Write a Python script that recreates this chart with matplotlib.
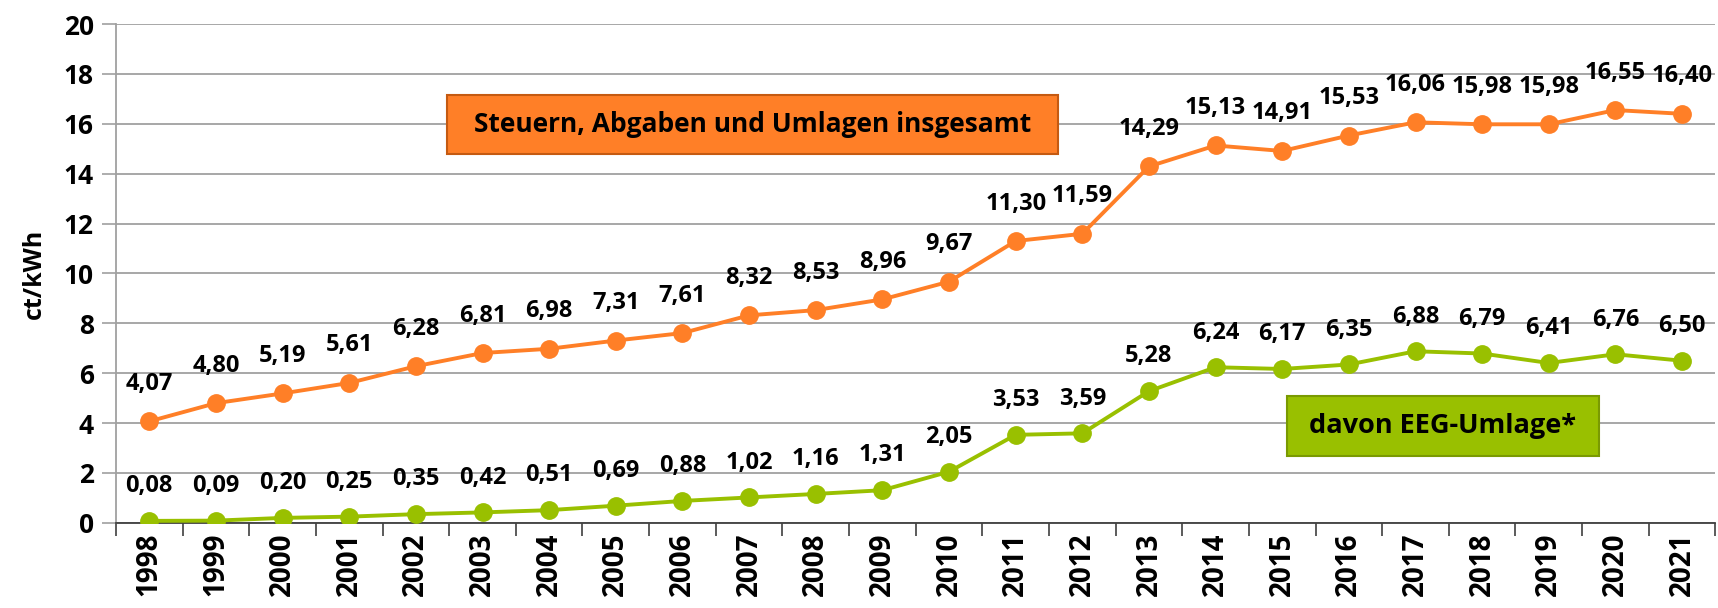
import matplotlib.pyplot as plt
from matplotlib.patches import Rectangle

plt.rcParams['font.family'] = ['Open Sans', 'DejaVu Sans']
plt.rcParams['font.weight'] = 'bold'

years = [str(y) for y in range(1998, 2022)]
gesamt = [4.07, 4.80, 5.19, 5.61, 6.28, 6.81, 6.98, 7.31, 7.61, 8.32, 8.53, 8.96,
          9.67, 11.30, 11.59, 14.29, 15.13, 14.91, 15.53, 16.06, 15.98, 15.98, 16.55, 16.40]
eeg = [0.08, 0.09, 0.20, 0.25, 0.35, 0.42, 0.51, 0.69, 0.88, 1.02, 1.16, 1.31,
       2.05, 3.53, 3.59, 5.28, 6.24, 6.17, 6.35, 6.88, 6.79, 6.41, 6.76, 6.50]

orange = '#FF7F27'
green = '#99C000'

fig = plt.figure(figsize=(17.18, 6.08), dpi=100)
ax = fig.add_axes([0.0675, 0.14, 0.931, 0.8205])

x = list(range(len(years)))
ax.plot(x, gesamt, color=orange, lw=2.8, marker='o', ms=12.5, zorder=3)
ax.plot(x, eeg, color=green, lw=2.8, marker='o', ms=12.5, zorder=3)

def fmt(v):
    return f'{v:.2f}'.replace('.', ',')

for xi, v in zip(x, gesamt):
    ax.annotate(fmt(v), (xi, v), xytext=(0, 27), textcoords='offset points',
                ha='center', va='center', fontsize=17, fontweight='bold')
for xi, v in zip(x, eeg):
    ax.annotate(fmt(v), (xi, v), xytext=(0, 25), textcoords='offset points',
                ha='center', va='center', fontsize=17, fontweight='bold')

ax.set_xlim(-0.5, len(years) - 0.5)
ax.set_ylim(0, 20)
ax.set_yticks(range(0, 21, 2))
ax.set_xticks(x)
ax.set_xticklabels(years, rotation=90, fontsize=20, fontweight='bold')
ax.set_xticks([i + 0.5 for i in range(-1, len(years))], minor=True)
ax.tick_params(axis='x', which='major', length=0, pad=7)
ax.tick_params(axis='x', which='minor', length=9, color='#404040', width=1.2)
ax.tick_params(axis='y', length=10, color='#a0a0a0', width=1.2, labelsize=19, pad=6)
for lab in ax.get_yticklabels():
    lab.set_fontweight('bold')

ax.grid(axis='y', color='#a0a0a0', lw=1.3)
ax.set_axisbelow(True)
for s in ['top', 'right']:
    ax.spines[s].set_visible(False)
ax.spines['left'].set_color('#a0a0a0')
ax.spines['left'].set_linewidth(1.3)
ax.spines['bottom'].set_color('#404040')
ax.spines['bottom'].set_linewidth(1.3)

ax.set_ylabel('ct/kWh', fontsize=18, fontweight='bold', labelpad=12)

# label boxes
ax.add_patch(Rectangle((0.207, 0.739), 0.382, 0.119, transform=ax.transAxes,
                       facecolor=orange, edgecolor='#C55A11', lw=1.5, zorder=4))
ax.text(0.398, 0.7985, 'Steuern, Abgaben und Umlagen insgesamt', transform=ax.transAxes,
        ha='center', va='center', fontsize=19, fontweight='bold', zorder=5)
ax.add_patch(Rectangle((0.732, 0.134), 0.195, 0.121, transform=ax.transAxes,
                       facecolor=green, edgecolor='#7A9A01', lw=1.5, zorder=4))
ax.text(0.8295, 0.1945, 'davon EEG-Umlage*', transform=ax.transAxes,
        ha='center', va='center', fontsize=19.5, fontweight='bold', zorder=5)

fig.savefig('out.png', dpi=100)
